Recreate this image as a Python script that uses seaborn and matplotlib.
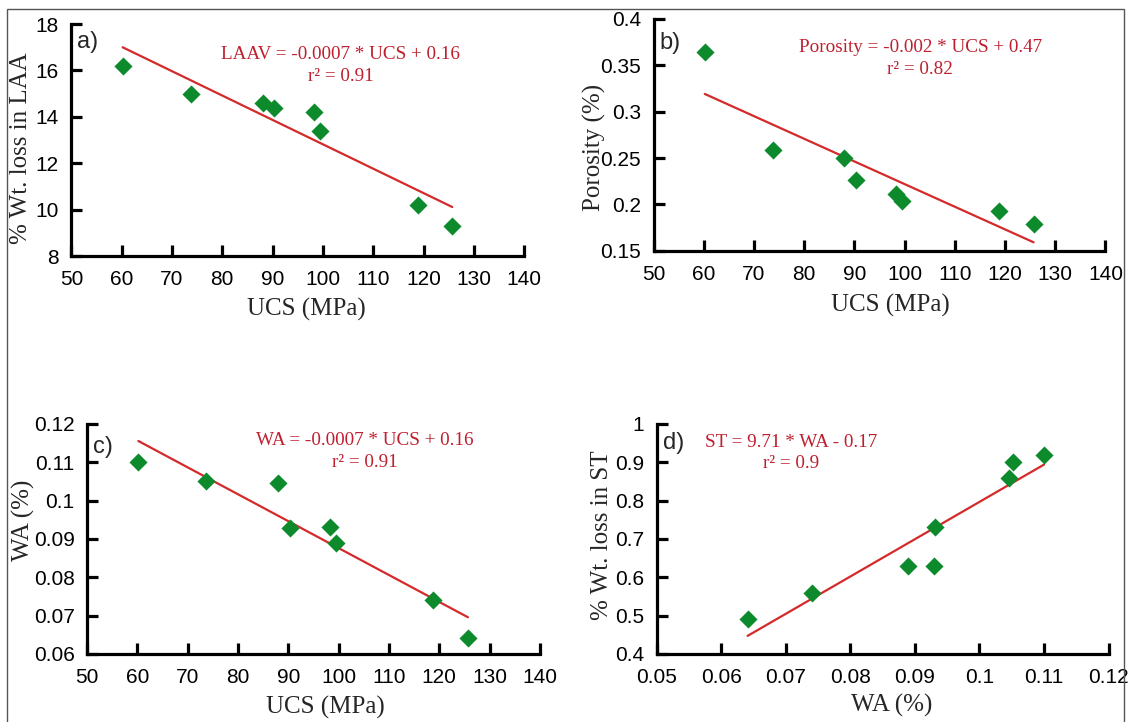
import numpy as np
import pandas as pd
import matplotlib
matplotlib.use("Agg")
import matplotlib.pyplot as plt
import seaborn as sns
from matplotlib.patches import Rectangle

# data (8 samples)
ucs = [60.2, 73.7, 88.0, 90.3, 98.3, 99.5, 118.8, 125.7]
laa = [16.2, 15.0, 14.6, 14.4, 14.2, 13.4, 10.2, 9.3]
porosity = [0.364, 0.259, 0.250, 0.226, 0.211, 0.204, 0.193, 0.179]
wa = [0.110, 0.1052, 0.1046, 0.0929, 0.0931, 0.0890, 0.0740, 0.0641]
st = [0.92, 0.90, 0.86, 0.63, 0.73, 0.63, 0.56, 0.49]

sns.set_style("ticks")
plt.rcParams['font.family'] = ['Liberation Sans', 'DejaVu Sans']

green = "#0c8a2c"
red_line = "#d42a2a"
red_text = "#bf1f2f"
serif = ['Liberation Serif', 'DejaVu Serif']

fig = plt.figure(figsize=(11.29, 7.22), dpi=100)

# panel setup: position, x, y, limits, ticks, labels, equation text
panels = [
    dict(pos=[0.0632, 0.6454, 0.4011, 0.3213], x=ucs, y=laa,
         xlim=(50, 140), xt=np.arange(50, 141, 10), ylim=(8, 18), yt=[8, 10, 12, 14, 16, 18],
         xlabel="UCS (MPa)", ylabel="% Wt. loss in LAA", tag="a)",
         eq="LAAV = -0.0007 * UCS + 0.16", r2="r² = 0.91",
         eqpos=(0.595, 0.868, 0.776), tagpos=(0.012, 0.922),
         xlc=(0.52, -0.232), ylc=(-0.112, 0.466)),
    dict(pos=[0.5789, 0.6528, 0.4002, 0.3209], x=ucs, y=porosity,
         xlim=(50, 140), xt=np.arange(50, 141, 10), ylim=(0.15, 0.4),
         yt=[0.15, 0.2, 0.25, 0.3, 0.35, 0.4],
         xlabel="UCS (MPa)", ylabel="Porosity (%)", tag="b)",
         eq="Porosity = -0.002 * UCS + 0.47", r2="r² = 0.82",
         eqpos=(0.590, 0.876, 0.780), tagpos=(0.014, 0.896),
         xlc=(0.523, -0.238), ylc=(-0.13, 0.445)),
    dict(pos=[0.0771, 0.0942, 0.4011, 0.3186], x=ucs, y=wa,
         xlim=(50, 140), xt=np.arange(50, 141, 10), ylim=(0.06, 0.12),
         yt=[0.06, 0.07, 0.08, 0.09, 0.1, 0.11, 0.12],
         xlabel="UCS (MPa)", ylabel="WA (%)", tag="c)",
         eq="WA = -0.0007 * UCS + 0.16", r2="r² = 0.91",
         eqpos=(0.613, 0.927, 0.831), tagpos=(0.014, 0.902),
         xlc=(0.527, -0.233), ylc=(-0.14, 0.579)),
    dict(pos=[0.5815, 0.0942, 0.4004, 0.3186], x=wa, y=st,
         xlim=(0.05, 0.12), xt=[0.05, 0.06, 0.07, 0.08, 0.09, 0.1, 0.11, 0.12],
         ylim=(0.4, 1.0), yt=[0.4, 0.5, 0.6, 0.7, 0.8, 0.9, 1.0],
         xlabel="WA (%)", ylabel="% Wt. loss in ST", tag="d)",
         eq="ST = 9.71 * WA - 0.17", r2="r² = 0.9",
         eqpos=(0.2975, 0.92, 0.83), tagpos=(0.015, 0.916),
         xlc=(0.52, -0.225), ylc=(-0.12, 0.517)),
]

for p in panels:
    ax = fig.add_axes(p["pos"])
    df = pd.DataFrame({"x": p["x"], "y": p["y"]})
    sns.regplot(data=df, x="x", y="y", ax=ax, ci=None, marker="D",
                scatter_kws=dict(s=85, color=green, alpha=1, linewidths=0, zorder=3),
                line_kws=dict(color=red_line, lw=1.6, zorder=2))
    ax.set_xlim(*p["xlim"])
    ax.set_ylim(*p["ylim"])
    ax.set_xticks(p["xt"])
    ax.set_yticks(p["yt"])
    ax.set_xticklabels(["{:g}".format(v) for v in p["xt"]])
    ax.set_yticklabels(["{:g}".format(v) for v in p["yt"]])
    sns.despine(ax=ax)
    for s in ["left", "bottom"]:
        ax.spines[s].set_linewidth(2.3)
        ax.spines[s].set_color("black")
    ax.tick_params(direction="in", length=8, width=2.3, labelsize=15,
                   colors="black")
    ax.tick_params(axis="x", pad=10)
    ax.tick_params(axis="y", pad=9)
    ax.set_xlabel(p["xlabel"], family=serif, fontsize=18, va="center")
    ax.set_ylabel(p["ylabel"], family=serif, fontsize=18, va="center")
    ax.xaxis.set_label_coords(*p["xlc"])
    ax.yaxis.set_label_coords(*p["ylc"])
    ex, ey1, ey2 = p["eqpos"]
    ax.text(ex, ey1, p["eq"], transform=ax.transAxes, ha="center", va="center",
            family=serif, fontsize=13.8, color=red_text)
    ax.text(ex, ey2, p["r2"], transform=ax.transAxes, ha="center", va="center",
            family=serif, fontsize=13.8, color=red_text)
    ax.text(p["tagpos"][0], p["tagpos"][1], p["tag"], transform=ax.transAxes,
            ha="left", va="center", fontsize=17)

# thin grey frame around the whole figure
fig.patches.append(Rectangle((0.0062, -0.02), 0.9894, 1.0075, transform=fig.transFigure,
                             fill=False, edgecolor="#555555", lw=1.0))

fig.savefig("out.png", dpi=100, facecolor="white")
